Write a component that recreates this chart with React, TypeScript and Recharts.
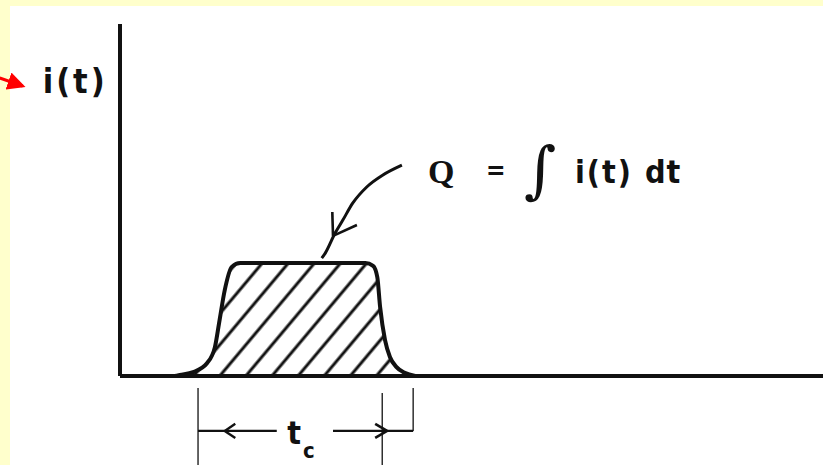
import { ComposedChart, Area, Line, XAxis, YAxis, ReferenceLine, ReferenceDot } from 'recharts';

// pulse outline i(t), time in arbitrary units
const pulseT = [7.8, 8.5, 10.4, 12.4, 13.5, 14.1, 14.9, 15.9, 17.1, 34.9, 36.0, 36.6, 37.0, 37.7, 38.4, 39.3, 40.5, 42.0];
const pulseI = [0, 0.3, 1.1, 3.7, 8.2, 15.1, 24.4, 31.0, 32.1, 32.1, 31.3, 28.1, 19.6, 10.2, 5.4, 2.6, 0.9, 0];

// leader curve from the Q label down to the top of the pulse
const leaderT = [28.7, 29.2, 30.6, 31.7, 33.1, 35.1, 37.4, 40.1];
const leaderI = [33.5, 34.9, 40.6, 44.3, 49.1, 53.7, 57.1, 59.9];

// t_c dimension marks
const tcStart = 11.1;
const tcEnd = 37.3;
const tcExt = 41.7;
const dimY = -15.6;

const pulseData = pulseT.map((t, k) => ({ t, i: pulseI[k] }));
const leaderData = leaderT.map((t, k) => ({ t, i: leaderI[k] }));

const ink = '#111';
const font = '"Liberation Sans Narrow", "DejaVu Sans Condensed", "Liberation Sans", sans-serif';

const dot = (p: any) => ({ x: p.viewBox.x + p.viewBox.width / 2, y: p.viewBox.y + p.viewBox.height / 2 });

export default function App() {
  return (
    <div style={{ position: 'fixed', left: 0, top: 0, width: 823, height: 465, background: '#FFFFCC' }}>
      <div style={{ position: 'absolute', left: 10, top: 6, right: 0, bottom: 0, background: '#fff' }} />
      <div style={{ position: 'absolute', left: 0, top: 0 }}>
        <ComposedChart width={823} height={465} margin={{ top: 24, right: 0, bottom: 88, left: 60 }}>
          <defs>
            <pattern id="hatch" width="20" height="20" patternUnits="userSpaceOnUse" patternTransform="rotate(40)">
              <line x1="10" y1="0" x2="10" y2="20" stroke={ink} strokeWidth={3} />
            </pattern>
            <marker id="redHead" markerWidth="6" markerHeight="6" refX="5" refY="3" orient="auto">
              <path d="M0,0 L6,3 L0,6 Z" fill="#ff0000" />
            </marker>
          </defs>
          <XAxis type="number" dataKey="t" domain={[0, 100]} tick={false} tickLine={false} height={1}
            axisLine={{ stroke: ink, strokeWidth: 4 }} allowDataOverflow />
          <YAxis type="number" domain={[0, 100]} tick={false} tickLine={false} width={60}
            axisLine={{ stroke: ink, strokeWidth: 4 }} allowDataOverflow />
          <Area data={pulseData} dataKey="i" type="monotone" baseValue={0} stroke={ink} strokeWidth={4}
            fill="url(#hatch)" fillOpacity={1} isAnimationActive={false} dot={false} activeDot={false} />
          <Line data={leaderData} dataKey="i" type="monotone" stroke={ink} strokeWidth={3}
            dot={false} activeDot={false} isAnimationActive={false} />

          {/* leader arrowhead */}
          <ReferenceLine segment={[{ x: 30.3, y: 39.8 }, { x: 30.2, y: 46.6 }]} stroke={ink} strokeWidth={2.6} ifOverflow="visible" />
          <ReferenceLine segment={[{ x: 30.3, y: 39.8 }, { x: 33.7, y: 42.9 }]} stroke={ink} strokeWidth={2.6} ifOverflow="visible" />

          {/* t_c dimension */}
          <ReferenceLine segment={[{ x: tcStart, y: -3.4 }, { x: tcStart, y: -26 }]} stroke={ink} strokeWidth={1.3} ifOverflow="visible" />
          <ReferenceLine segment={[{ x: tcEnd, y: -4.8 }, { x: tcEnd, y: -26 }]} stroke={ink} strokeWidth={1.3} ifOverflow="visible" />
          <ReferenceLine segment={[{ x: tcExt, y: -3.4 }, { x: tcExt, y: dimY }]} stroke={ink} strokeWidth={1.3} ifOverflow="visible" />
          <ReferenceLine segment={[{ x: tcStart, y: dimY }, { x: 22.3, y: dimY }]} stroke={ink} strokeWidth={2.4} ifOverflow="visible" />
          <ReferenceLine segment={[{ x: 30.3, y: dimY }, { x: tcExt, y: dimY }]} stroke={ink} strokeWidth={2.4} ifOverflow="visible" />
          <ReferenceLine segment={[{ x: 14.9, y: dimY }, { x: 16.4, y: -13.6 }]} stroke={ink} strokeWidth={2.4} ifOverflow="visible" />
          <ReferenceLine segment={[{ x: 14.9, y: dimY }, { x: 16.4, y: -17.6 }]} stroke={ink} strokeWidth={2.4} ifOverflow="visible" />
          <ReferenceLine segment={[{ x: 38.0, y: dimY }, { x: 36.3, y: -13.6 }]} stroke={ink} strokeWidth={2.6} ifOverflow="visible" />
          <ReferenceLine segment={[{ x: 38.0, y: dimY }, { x: 36.3, y: -17.6 }]} stroke={ink} strokeWidth={2.6} ifOverflow="visible" />

          <ReferenceDot x={23.8} y={-19.3} r={1} fill="none" stroke="none" ifOverflow="visible"
            label={(p: any) => {
              const { x, y } = dot(p);
              return (
                <text x={x} y={y} fill={ink} fontFamily={font} fontWeight={700} fontSize={32}>
                  t<tspan fontSize={22} dx={2} dy={14}>c</tspan>
                </text>
              );
            }} />

          {/* Q = ∫ i(t) dt */}
          <ReferenceDot x={43.8} y={54.8} r={1} fill="none" stroke="none" ifOverflow="visible"
            label={(p: any) => {
              const { x, y } = dot(p);
              return (
                <g fill={ink} fontFamily={font} fontWeight={700}>
                  <text x={x} y={y} fontSize={34} fontFamily='"Liberation Serif", serif'>Q</text>
                  <text x={x + 58} y={y - 4} fontSize={26}>=</text>
                  <text x={x + 96} y={y + 8} fontSize={62} fontWeight={400} fontFamily='"DejaVu Serif", serif'>∫</text>
                  <text x={x + 147} y={y} fontSize={32} letterSpacing={2}>i(t)</text>
                  <text x={x + 217} y={y} fontSize={32} letterSpacing={1}>dt</text>
                </g>
              );
            }} />

          {/* axis label with the red pointer */}
          <ReferenceDot x={-11.0} y={80.4} r={1} fill="none" stroke="none" ifOverflow="visible"
            label={(p: any) => {
              const { x, y } = dot(p);
              return (
                <g>
                  <line x1={x - 43} y1={y - 15} x2={x - 20} y2={y - 7} stroke="#ff0000" strokeWidth={3} markerEnd="url(#redHead)" />
                  <text x={x} y={y} fill={ink} fontFamily={font} fontWeight={700} fontSize={34} letterSpacing={3}>i(t)</text>
                </g>
              );
            }} />
        </ComposedChart>
      </div>
    </div>
  );
}
